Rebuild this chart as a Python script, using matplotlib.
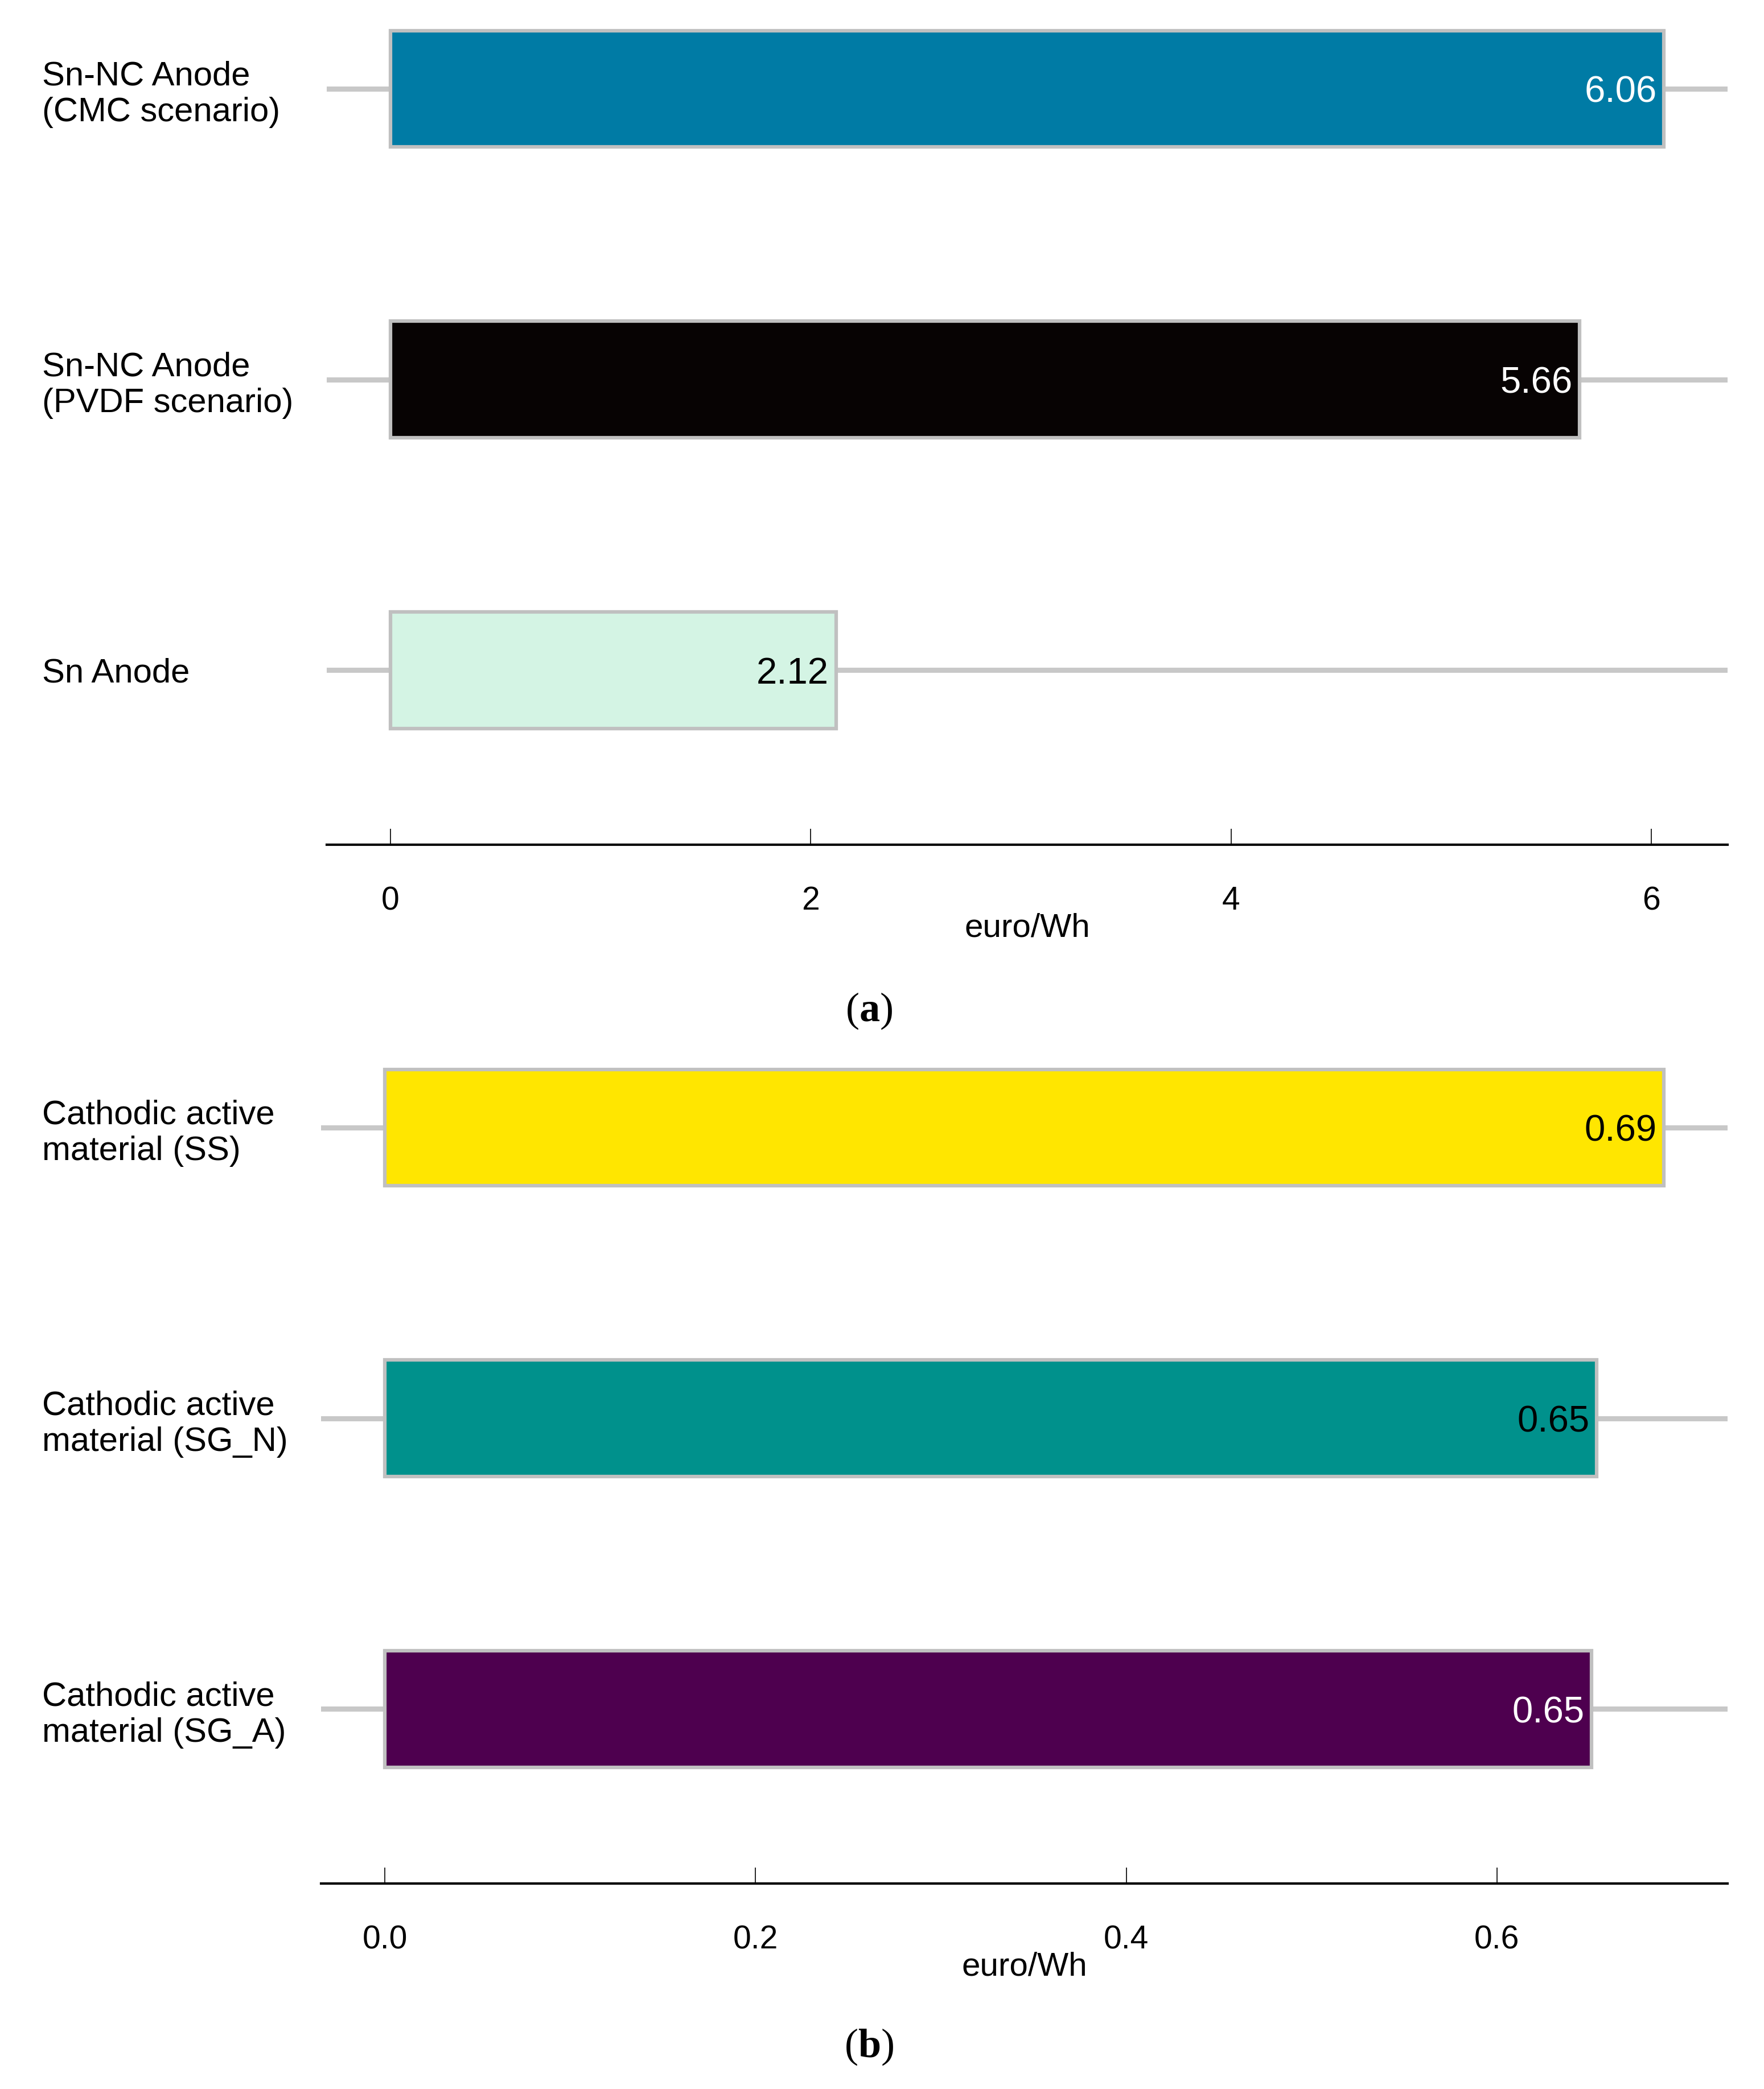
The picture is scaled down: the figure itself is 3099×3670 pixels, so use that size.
import matplotlib
matplotlib.use("Agg")
import matplotlib.pyplot as plt

plt.rcParams['font.family'] = ['Liberation Sans', 'DejaVu Sans']
plt.rcParams['mathtext.fontset'] = 'custom'
plt.rcParams['mathtext.rm'] = 'Liberation Serif'
plt.rcParams['mathtext.bf'] = 'Liberation Serif:bold'

# panel (a): anode costs, listed bottom to top
anode_labels = ['Sn Anode', 'Sn-NC Anode\n(PVDF scenario)', 'Sn-NC Anode\n(CMC scenario)']
anode_values = [2.12, 5.66, 6.06]
anode_colors = ['#d4f4e4', '#070303', '#007ba5']
anode_text = ['black', 'white', 'white']
anode_ticks = [0, 2, 4, 6]
anode_ticklabels = ['0', '2', '4', '6']

# panel (b): cathode costs, listed bottom to top
cathode_labels = ['Cathodic active\nmaterial (SG_A)', 'Cathodic active\nmaterial (SG_N)',
                  'Cathodic active\nmaterial (SS)']
cathode_values = [0.651, 0.654, 0.69]
cathode_colors = ['#4e004f', '#00918c', '#ffe600']
cathode_text = ['white', 'black', 'black']
cathode_ticks = [0.0, 0.2, 0.4, 0.6]
cathode_ticklabels = ['0.0', '0.2', '0.4', '0.6']

W, H, DPI = 3099, 3670, 100
LABEL_X = 74  # left edge of category labels, px


def draw_panel(ax, labels, values, colors, text_colors, ticks, ticklabels, left_px):
    pos = list(range(len(values)))
    ax.barh(pos, values, height=0.4, color=colors, edgecolor='#c0c0c0',
            linewidth=4.5, zorder=2)
    for p, v, tc in zip(pos, values, text_colors):
        ax.annotate(f"{v:.2f}", (v, p), xytext=(-9, -5), textcoords='offset points',
                    ha='right', va='center', fontsize=47, color=tc, zorder=3)

    vmax = max(values)
    ax.set_xlim(-0.05 * vmax, 1.05 * vmax)
    ax.set_ylim(-0.6, 2.305)

    ax.set_yticks(pos)
    ax.set_yticklabels(labels, fontsize=43, linespacing=1.2)
    pad_pt = (left_px - LABEL_X) * 72 / DPI
    ax.tick_params(axis='y', length=0, pad=pad_pt)
    for t in ax.get_yticklabels():
        t.set_horizontalalignment('left')

    ax.set_xticks(ticks)
    ax.set_xticklabels(ticklabels)
    ax.tick_params(axis='x', direction='in', length=20, width=1.2, pad=52,
                   labelsize=41)
    ax.set_xlabel('euro/Wh', fontsize=42, labelpad=-5)

    ax.grid(axis='y', color='#c8c8c8', linewidth=6.5)
    ax.grid(axis='x', visible=False)
    ax.set_axisbelow(True)
    for s in ['left', 'top', 'right']:
        ax.spines[s].set_visible(False)
    ax.spines['bottom'].set_linewidth(3)


fig = plt.figure(figsize=(W / DPI, H / DPI), dpi=DPI)

ax_h = 1484 / H
ax_a = fig.add_axes([574 / W, 1 - 1484 / H, (3035 - 574) / W, ax_h])
ax_b = fig.add_axes([564 / W, 1 - 3309 / H, (3035 - 564) / W, ax_h])

draw_panel(ax_a, anode_labels, anode_values, anode_colors, anode_text,
           anode_ticks, anode_ticklabels, 574)
draw_panel(ax_b, cathode_labels, cathode_values, cathode_colors, cathode_text,
           cathode_ticks, cathode_ticklabels, 564)

fig.text(1527 / W, 1 - 1776 / H, r'($\mathbf{a}$)', ha='center', va='center',
         fontsize=52, family='Liberation Serif')
fig.text(1527 / W, 1 - 3596 / H, r'($\mathbf{b}$)', ha='center', va='center',
         fontsize=52, family='Liberation Serif')

fig.savefig('out.png', dpi=DPI)
